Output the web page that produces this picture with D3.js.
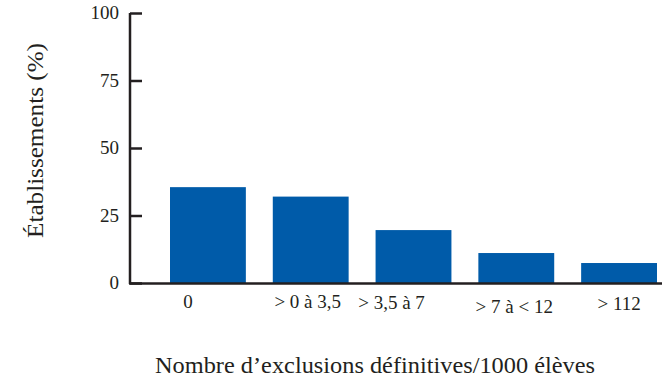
<!DOCTYPE html>
<html><head><meta charset="utf-8">
<script src="https://cdn.jsdelivr.net/npm/d3@7"></script>
<style>body{margin:0;background:#fff}svg{display:block}text{font-family:"Liberation Serif","DejaVu Serif",serif;fill:#231f20}</style>
</head><body><svg id="c" width="662" height="379"></svg>
<script>
const categories = ["0", "> 0 à 3,5", "> 3,5 à 7", "> 7 à < 12", "> 112"];
const values = [35.5, 32, 19.6, 11.1, 7.4];
const yTicks = [0, 25, 50, 75, 100];
const xTitle = "Nombre d’exclusions définitives/1000 élèves";
const yTitle = "Établissements (%)";

const labelDx = [-20, -3, -22, -2, 0];
const labelDy = [0, 0, 1, 5, 2];

const svg = d3.select("#c");
const x = d3.scaleBand().domain(categories).range([170, 657]).paddingInner(0.262).paddingOuter(0);
const y = d3.scaleLinear().domain([0, 100]).range([283, 13]);

svg.selectAll("rect.bar").data(values).join("rect").attr("class","bar")
  .attr("x",(d,i)=>x(categories[i])).attr("width",x.bandwidth())
  .attr("y",d=>y(d)).attr("height",d=>y(0)-y(d)).attr("fill","#005ba9");

// y axis
const ya = svg.append("g").attr("transform","translate(130,0)")
  .call(d3.axisRight(y).tickValues(yTicks).tickSize(12).tickFormat(""));
ya.select(".domain").attr("d","M0,"+y(100)+"V"+(y(0)+1)).attr("stroke","#231f20").attr("stroke-width",2.5);
ya.selectAll(".tick line").attr("stroke","#231f20").attr("stroke-width",2.5);
svg.selectAll("text.yt").data(yTicks).join("text").attr("class","yt")
  .attr("x",119).attr("y",d=>y(d)+6).attr("text-anchor","end").attr("font-size",19).text(d=>d);

// x axis
svg.append("line").attr("x1",129).attr("x2",662).attr("y1",y(0)+0.5).attr("y2",y(0)+0.5)
  .attr("stroke","#231f20").attr("stroke-width",2.5);
svg.selectAll("text.xt").data(categories).join("text").attr("class","xt")
  .attr("x",(d,i)=>x(d)+x.bandwidth()/2+labelDx[i]).attr("y",(d,i)=>308+labelDy[i])
  .attr("text-anchor","middle").attr("font-size",19).text(d=>d);

svg.append("text").attr("x",375).attr("y",373).attr("text-anchor","middle").attr("font-size",23.5)
  .attr("textLength",440).attr("lengthAdjust","spacingAndGlyphs").text(xTitle);
svg.append("text").attr("transform","translate(43,140.5) rotate(-90)").attr("text-anchor","middle").attr("font-size",23)
  .attr("textLength",195).attr("lengthAdjust","spacingAndGlyphs").text(yTitle);
</script></body></html>
